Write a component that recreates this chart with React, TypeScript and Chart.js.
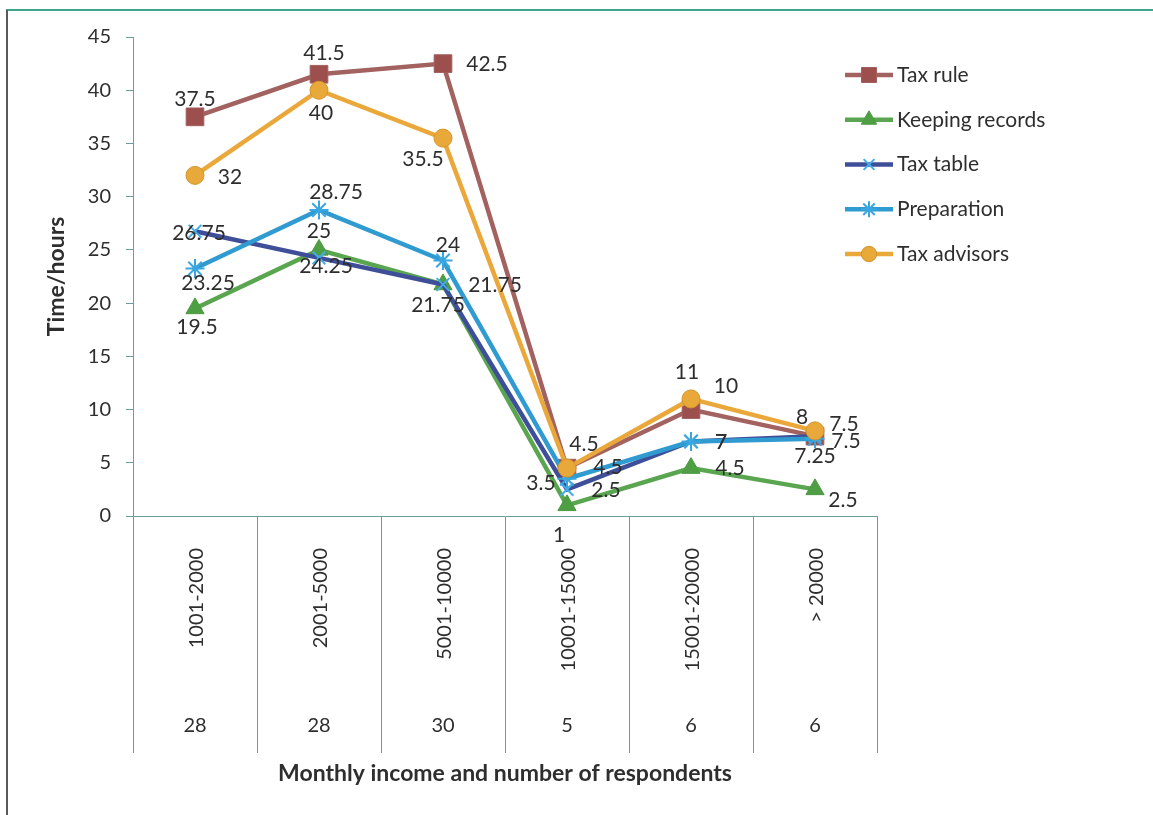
import React, { useEffect, useRef } from 'react';
import { Chart, registerables } from 'chart.js';
import { drawPoint } from 'chart.js/helpers';

Chart.register(...registerables);

// ---------- data ----------
const categories = ['1001-2000', '2001-5000', '5001-10000', '10001-15000', '15001-20000', '> 20000'];
const respondents = ['28', '28', '30', '5', '6', '6'];

const seriesNames = ['Tax rule', 'Keeping records', 'Tax table', 'Preparation', 'Tax advisors'];
const taxRule = [37.5, 41.5, 42.5, 4.5, 10, 7.5];
const keepingRecords = [19.5, 25, 21.75, 1, 4.5, 2.5];
const taxTable = [26.75, 24.25, 21.75, 2.5, 7, 7.5];
const preparation = [23.25, 28.75, 24, 3.5, 7, 7.25];
const taxAdvisors = [32, 40, 35.5, 4.5, 11, 8];

const yMin = 0;
const yMax = 45;
const yStep = 5;

const xTitle = 'Monthly income and number of respondents';
const yTitle = 'Time/hours';

// ---------- styles ----------
const FONT = 'Lato, "Open Sans", sans-serif';
const TEXT = '#2e2e2e';
const AXIS = '#6a9e9e';

const lineColors = ['#a2625f', '#5aa650', '#3f4e99', '#2f9bd0', '#eba83a'];
const markerFill = ['#9c4f4c', '#4e9e44', '#42aee8', '#3aa6e0', '#e9a93a'];
const markerBorder = ['#a0605e', '#4a9a40', '#42aee8', '#3aa6e0', '#d4952a'];
const markerStyle = ['rect', 'triangle', 'crossRot', 'star', 'circle'];
const markerRadius = [12.5, 10.5, 9, 9.5, 9];
const markerBorderWidth = [1, 1, 2, 2, 1];
const drawOrder = [5, 4, 3, 2, 1];

// label nudges (pixels from the point), per series / per category
const labelNudges = [
  [[0, -18], [5, -21], [44, 1], [41, -1], [35, -23], [29, -12]],
  [[2, 19], [0, -19], [-5, 21], [-8, 30], [39, 0], [28, 11]],
  [[4, 2], [7, 8], [52, 1], [39, 1], [30, 1], [31, 5]],
  [[13, 15], [17, -18], [5, -15], [-26, 4], [30, 1], [0, 17]],
  [[35, 2], [2, 23], [-20, 21], [17, -24], [-4, -27], [-13, -14]],
];

const seriesData = [taxRule, keepingRecords, taxTable, preparation, taxAdvisors];

const framePlugin = {
  id: 'frame',
  beforeDraw(chart: any) {
    const { ctx, width, height } = chart;
    ctx.save();
    ctx.fillStyle = '#ffffff';
    ctx.fillRect(0, 0, width, height);
    ctx.lineWidth = 2;
    ctx.strokeStyle = '#3ea58c';
    ctx.beginPath();
    ctx.moveTo(6, 10);
    ctx.lineTo(width, 10);
    ctx.stroke();
    ctx.strokeStyle = '#5a5a5a';
    ctx.beginPath();
    ctx.moveTo(7, 10);
    ctx.lineTo(7, height);
    ctx.stroke();
    ctx.restore();
  },
};

const dataLabelPlugin = {
  id: 'dataLabels',
  afterDatasetsDraw(chart: any) {
    const { ctx } = chart;
    ctx.save();
    ctx.font = `21px ${FONT}`;
    ctx.fillStyle = TEXT;
    ctx.textAlign = 'center';
    ctx.textBaseline = 'middle';
    chart.data.datasets.forEach((ds: any, i: number) => {
      const meta = chart.getDatasetMeta(i);
      meta.data.forEach((pt: any, j: number) => {
        const n = labelNudges[i][j];
        ctx.fillText(String(ds.data[j]), pt.x + n[0], pt.y + n[1]);
      });
    });
    ctx.restore();
  },
};

const categoryPlugin = {
  id: 'categoryAxis',
  afterDraw(chart: any) {
    const { ctx, chartArea } = chart;
    const xs = chart.scales.x;
    ctx.save();
    ctx.font = `20px ${FONT}`;
    ctx.fillStyle = TEXT;
    categories.forEach((c, i) => {
      const x = xs.getPixelForValue(i);
      ctx.save();
      ctx.translate(x + 2, chartArea.bottom + 32);
      ctx.rotate(-Math.PI / 2);
      ctx.textAlign = 'right';
      ctx.textBaseline = 'middle';
      ctx.fillText(c, 0, 0);
      ctx.restore();
      ctx.textAlign = 'center';
      ctx.textBaseline = 'middle';
      ctx.fillText(respondents[i], x, chartArea.bottom + 210);
    });
    ctx.restore();
  },
};

const legendPlugin = {
  id: 'customLegend',
  afterDraw(chart: any) {
    const { ctx, chartArea } = chart;
    const x0 = chartArea.right - 32;
    const x1 = x0 + 48;
    ctx.save();
    chart.data.datasets.forEach((ds: any, i: number) => {
      const y = chartArea.top + 38 + i * 44.75;
      ctx.lineWidth = 4.5;
      ctx.strokeStyle = ds.borderColor;
      ctx.beginPath();
      ctx.moveTo(x0, y);
      ctx.lineTo(x1, y);
      ctx.stroke();
      ctx.fillStyle = ds.pointBackgroundColor;
      ctx.strokeStyle = ds.pointBorderColor;
      ctx.lineWidth = ds.pointBorderWidth;
      drawPoint(ctx, {
        pointStyle: ds.pointStyle,
        rotation: 0,
        radius: ds.pointRadius * 0.85,
        borderWidth: ds.pointBorderWidth,
      } as any, (x0 + x1) / 2, y);
      ctx.font = `21px ${FONT}`;
      ctx.fillStyle = TEXT;
      ctx.textAlign = 'left';
      ctx.textBaseline = 'middle';
      ctx.fillText(seriesNames[i], x1 + 4, y);
    });
    ctx.restore();
  },
};

export default function App() {
  const ref = useRef<HTMLCanvasElement>(null);

  useEffect(() => {
    const canvas = ref.current;
    if (!canvas) return;
    const datasets = seriesNames.map((name, i) => ({
      label: name,
      data: seriesData[i],
      borderColor: lineColors[i],
      backgroundColor: markerFill[i],
      borderWidth: 4.5,
      tension: 0,
      fill: false,
      pointStyle: markerStyle[i],
      pointRadius: markerRadius[i],
      pointHoverRadius: markerRadius[i],
      pointBackgroundColor: markerFill[i],
      pointBorderColor: markerBorder[i],
      pointBorderWidth: markerBorderWidth[i],
      order: drawOrder[i],
    }));

    const chart = new Chart(canvas, {
      type: 'line',
      data: { labels: categories, datasets: datasets as any },
      options: {
        responsive: false,
        animation: false,
        devicePixelRatio: 1,
        layout: { padding: { top: 37, right: 276, bottom: 0, left: 0 } },
        plugins: {
          legend: { display: false },
          tooltip: { enabled: false },
        },
        scales: {
          x: {
            type: 'category',
            offset: true,
            ticks: { display: false },
            grid: {
              display: true,
              offset: true,
              drawOnChartArea: false,
              drawTicks: true,
              tickLength: 237,
              color: AXIS,
              lineWidth: 1,
            },
            border: { display: true, color: AXIS, width: 1 },
            title: {
              display: true,
              text: xTitle,
              color: TEXT,
              font: { family: FONT, size: 23, weight: 'bold' },
              padding: { top: 0, bottom: 28 },
            },
            afterFit: (s: any) => {
              s.height = 299;
            },
          },
          y: {
            min: yMin,
            max: yMax,
            ticks: {
              stepSize: yStep,
              color: TEXT,
              font: { family: FONT, size: 20 },
              padding: 15,
            },
            grid: {
              drawOnChartArea: false,
              drawTicks: true,
              tickLength: 7,
              color: AXIS,
            },
            border: { display: true, color: AXIS, width: 1 },
            title: {
              display: true,
              text: yTitle,
              color: TEXT,
              font: { family: FONT, size: 23, weight: 'bold' },
              padding: { top: 43, bottom: 0 },
            },
            afterFit: (s: any) => {
              s.width = 133;
            },
          },
        },
      } as any,
      plugins: [framePlugin, dataLabelPlugin, categoryPlugin, legendPlugin],
    });
    return () => chart.destroy();
  }, []);

  return (
    <div style={{ position: 'absolute', left: 0, top: 0, width: 1153, height: 815 }}>
      <canvas ref={ref} width={1153} height={815} style={{ display: 'block' }} />
    </div>
  );
}
